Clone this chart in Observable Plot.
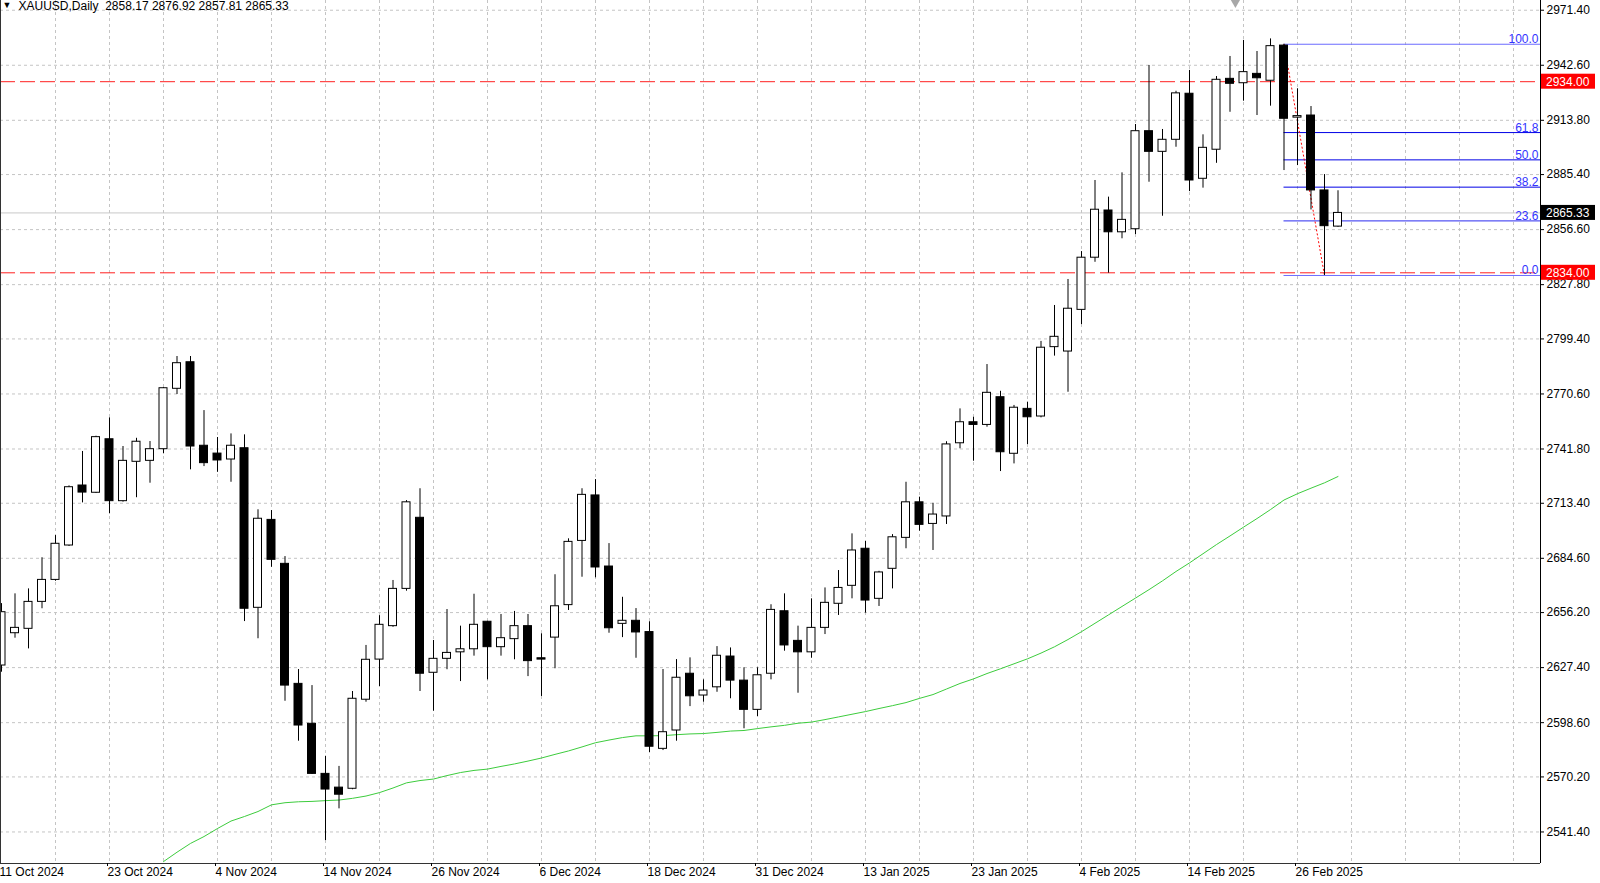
<!DOCTYPE html>
<html><head><meta charset="utf-8">
<script src="https://cdn.jsdelivr.net/npm/d3@7"></script>
<script src="https://cdn.jsdelivr.net/npm/@observablehq/plot@0.6"></script>
<style>html,body{margin:0;padding:0;background:#fff;overflow:hidden} svg{display:block}</style>
</head><body><div id="chart"></div>
<script>
// ---- data ----
const opens = [2628.5,2645.4,2647.7,2661.8,2673.3,2691.3,2722.7,2718.9,2746.9,2714.5,
2735.1,2735.6,2741.7,2773.3,2787.2,2743.5,2739.4,2736.3,2742.2,2658.7,
2704.7,2681.7,2618.9,2598.0,2571.8,2564.6,2564.0,2610.6,2631.6,2649.1,
2668.6,2705.8,2624.7,2632.0,2635.4,2637.0,2651.4,2638.1,2642.3,2649.1,
2632.3,2643.1,2660.1,2693.7,2717.5,2680.3,2650.3,2651.9,2646.0,2584.9,
2594.5,2624.2,2612.8,2617.1,2633.2,2620.6,2605.3,2624.2,2656.9,2641.4,
2635.4,2648.2,2660.8,2670.2,2689.6,2663.4,2679.1,2695.3,2713.9,2702.6,
2706.5,2744.8,2755.8,2754.4,2768.9,2739.3,2762.8,2758.8,2795.1,2792.8,
2814.6,2841.9,2866.6,2855.2,2856.8,2908.1,2897.3,2903.6,2927.7,2883.2,
2898.4,2935.5,2933.2,2938.1,2934.5,2952.9,2915.2,2916.3,2877.1,2858.17];
const highs = [2660.9,2666.0,2668.6,2684.9,2696.5,2722.5,2740.5,2748.5,2758.1,2743.1,
2747.4,2745.7,2774.0,2790.2,2790.2,2761.9,2747.8,2749.7,2749.2,2710.0,
2709.6,2685.5,2626.4,2618.0,2581.0,2575.7,2614.9,2639.0,2654.6,2673.0,
2714.8,2721.0,2641.6,2657.8,2649.1,2665.8,2651.6,2655.2,2656.8,2655.2,
2645.1,2676.0,2694.8,2721.0,2725.8,2692.3,2664.2,2658.3,2651.4,2626.4,
2631.6,2632.5,2621.0,2638.4,2637.7,2627.3,2627.3,2660.3,2666.0,2649.1,
2663.4,2669.1,2678.2,2697.4,2693.4,2677.8,2697.0,2724.4,2716.6,2713.4,
2745.6,2762.8,2758.4,2786.0,2772.0,2764.6,2766.3,2798.1,2816.9,2830.5,
2845.1,2882.3,2873.6,2886.3,2911.6,2942.5,2909.0,2929.0,2939.9,2906.2,
2936.7,2947.2,2955.6,2949.8,2956.4,2953.6,2930.3,2921.0,2885.4,2876.92];
const lows = [2625.0,2642.8,2637.2,2658.2,2672.6,2690.8,2713.6,2718.5,2707.9,2714.0,
2716.3,2723.9,2739.3,2770.3,2730.9,2732.6,2729.6,2724.4,2651.5,2642.5,
2679.9,2609.8,2588.9,2571.5,2536.9,2553.5,2563.5,2609.3,2617.5,2648.5,
2667.4,2614.9,2604.6,2626.3,2620.1,2633.4,2621.0,2633.4,2631.5,2622.7,
2612.3,2626.8,2657.3,2674.7,2674.4,2645.4,2643.1,2632.3,2583.0,2584.0,
2588.9,2607.0,2609.3,2614.5,2611.1,2595.4,2601.8,2621.0,2636.0,2614.0,
2632.3,2644.7,2654.7,2663.4,2655.9,2659.4,2668.6,2689.6,2698.8,2688.7,
2702.3,2741.9,2735.4,2753.2,2730.0,2734.0,2744.1,2758.1,2790.4,2771.5,
2806.9,2839.5,2833.8,2851.8,2854.0,2881.4,2863.6,2899.7,2876.5,2878.3,
2891.3,2918.0,2923.8,2916.3,2921.2,2887.5,2890.1,2866.9,2832.6,2857.81];
const closes = [2656.4,2648.2,2661.8,2673.3,2692.2,2721.8,2719.0,2748.0,2714.5,2735.6,
2745.6,2741.7,2773.6,2786.7,2743.1,2734.4,2735.8,2743.5,2658.2,2705.3,
2683.8,2618.0,2597.1,2571.8,2563.6,2560.9,2611.1,2631.5,2649.8,2668.6,
2713.9,2624.2,2632.0,2635.1,2637.0,2649.8,2638.1,2642.8,2649.1,2630.8,
2631.6,2659.5,2693.2,2717.8,2679.8,2648.0,2651.9,2645.8,2586.0,2593.6,
2622.1,2612.4,2615.4,2633.6,2620.6,2605.3,2623.4,2657.6,2639.0,2635.4,
2648.2,2661.3,2669.1,2688.7,2662.5,2677.2,2695.6,2713.9,2702.1,2707.5,
2744.2,2755.8,2754.4,2771.2,2740.1,2763.4,2758.4,2794.8,2800.5,2815.2,
2841.9,2867.0,2855.2,2861.7,2908.1,2897.3,2903.6,2927.9,2882.3,2899.4,
2935.0,2932.9,2939.0,2935.8,2952.6,2914.6,2916.0,2877.1,2858.4,2865.33];

const maStart = 12;
const maValues = [2525.9,2530.8,2535.4,2539.0,2543.2,2547.1,2549.5,2552.1,2555.6,2556.7,
2557.2,2557.4,2557.8,2558.1,2559.0,2560.2,2562.0,2564.4,2567.1,2568.3,
2569.1,2570.9,2572.5,2573.6,2574.3,2575.7,2577.0,2578.5,2580.1,2582.0,
2583.8,2585.9,2588.1,2589.5,2590.8,2591.7,2591.7,2591.8,2592.3,2592.7,
2592.9,2593.5,2594.2,2594.5,2595.5,2596.4,2597.2,2598.3,2598.9,2600.2,
2601.6,2603.0,2604.4,2606.0,2607.5,2609.1,2611.3,2613.3,2616.2,2619.1,
2621.5,2624.3,2626.8,2629.4,2632.0,2635.0,2638.3,2642.1,2646.2,2650.6,
2655.0,2659.4,2663.8,2668.2,2672.8,2677.7,2682.2,2687.0,2691.8,2696.3,
2700.9,2705.4,2710.1,2715.1,2718.4,2721.3,2724.1,2727.4];

const dateTickIdx = [0,8,16,24,32,40,48,56,64,72,80,88,96];
const dateTickLabels = ["11 Oct 2024","23 Oct 2024","4 Nov 2024","14 Nov 2024","26 Nov 2024",
"6 Dec 2024","18 Dec 2024","31 Dec 2024","13 Jan 2025","23 Jan 2025","4 Feb 2025",
"14 Feb 2025","26 Feb 2025"];
const priceTicks = [2971.40,2942.60,2913.80,2885.40,2856.60,2827.80,2799.40,2770.60,
2741.80,2713.40,2684.60,2656.20,2627.40,2598.60,2570.20,2541.40];

const fibLevels = [100.0, 61.8, 50.0, 38.2, 23.6, 0.0];
const fibHigh = 2953.6, fibLow = 2832.6, fibStartBar = 95, fibEndBar = 98;
const levelLines = [2934.00, 2834.00];
const lastPrice = 2865.33;
const headerText = "XAUUSD,Daily\u00a0 2858.17 2876.92 2857.81 2865.33";

// ---- build ----
const rows = opens.map((o, i) => ({i, o, h: highs[i], l: lows[i], c: closes[i]}));
const maRows = maValues.map((v, k) => ({i: maStart + k, v}));
const fibPrice = l => fibLow + l / 100 * (fibHigh - fibLow);

const W = 1600, H = 883, mR = 60, mB = 20;
const step = 13.5;
const xMin = -1 / step, xMax = (W - mR - 1) / step;
const yMin = 2524.9, yMax = 2976.49;
const half = 4 / step;
const gridIdx = d3.range(4, xMax, 4);
const font = "'Liberation Sans', Arial, sans-serif";

const chart = Plot.plot({
  width: W, height: H,
  marginLeft: 0, marginRight: mR, marginTop: 0, marginBottom: mB,
  style: {fontFamily: font, fontSize: "12px", background: "#fff", color: "#000"},
  x: {type: "linear", domain: [xMin, xMax], axis: null, label: null},
  y: {type: "linear", domain: [yMin, yMax], axis: null, label: null},
  marks: [
    Plot.ruleY(priceTicks, {stroke: "#c4c4c4", strokeDasharray: "3,3"}),
    Plot.ruleX(gridIdx, {stroke: "#c4c4c4", strokeDasharray: "3,3"}),
    Plot.line(maRows, {x: "i", y: "v", stroke: "#3dcc3d", strokeWidth: 1, clip: true}),
    Plot.ruleY([lastPrice], {stroke: "#c8c8c8"}),
    Plot.ruleY(levelLines, {stroke: "#ff2020", strokeDasharray: "15,5"}),
    Plot.ruleY(fibLevels, {y: fibPrice, x1: fibStartBar, x2: xMax,
      stroke: l => (l === 100 || l === 0) ? "#6b6bff" : (l === 23.6 ? "#2b2bf0" : "#0000e6")}),
    Plot.text(fibLevels, {y: fibPrice, text: l => l.toFixed(1), frameAnchor: "right",
      textAnchor: "end", lineAnchor: "bottom", dx: -2, dy: -1, fill: "#3333ff", fontSize: 12}),
    Plot.link([0], {x1: fibStartBar, y1: fibHigh, x2: fibEndBar, y2: fibLow,
      stroke: "#ff0000", strokeDasharray: "2,2"}),
    Plot.ruleX(rows, {x: "i", y1: "l", y2: "h", stroke: "#000", strokeWidth: 1}),
    Plot.rect(rows, {x1: d => d.i - half, x2: d => d.i + half, y1: "o", y2: "c",
      fill: d => d.c >= d.o ? "#fff" : "#000", stroke: "#000", strokeWidth: 1, inset: 0}),
    Plot.ruleX([xMin], {stroke: "#333"}),
    Plot.ruleX([xMax], {stroke: "#000"}),
    Plot.ruleY([yMin], {stroke: "#333"}),
    Plot.axisY(priceTicks, {anchor: "right", label: null, tickFormat: d => d.toFixed(2), tickSize: 3,
      tickPadding: 3, fontSize: 12, fill: "#000", stroke: "#000"}),
    Plot.axisX(dateTickIdx, {anchor: "bottom", label: null,
      tickFormat: d => dateTickLabels[dateTickIdx.indexOf(d)],
      tickSize: 3, tickPadding: 1, textAnchor: "start", dx: -2, fontSize: 12, fill: "#000", stroke: "#000"}),
    Plot.text([headerText], {frameAnchor: "top-left", dx: 18, dy: 1, lineAnchor: "top",
      textAnchor: "start", fontSize: 12, fill: "#000"}),
    Plot.text(["\u25BC"], {frameAnchor: "top-left", dx: 2, dy: 1, lineAnchor: "top",
      textAnchor: "start", fontSize: 9, fill: "#000"}),
    Plot.dot([0], {x: 91.4, frameAnchor: "top", dy: 2, symbol: "triangle", rotate: 180,
      r: 3.5, fill: "#a8a8a8", stroke: null})
  ]
});

document.getElementById("chart").appendChild(chart);

// price label boxes on the right axis, placed with Plot's y scale
const ys = chart.scale("y");
const boxes = [
  {v: levelLines[0], fill: "#ff0000"},
  {v: levelLines[1], fill: "#ff0000"},
  {v: lastPrice, fill: "#000000"}
];
const svg = d3.select(chart);
const g = svg.append("g").attr("text-anchor", "start");
boxes.forEach(b => {
  const yy = ys.apply(b.v);
  g.append("rect").attr("x", W - mR + 1).attr("y", yy - 7.5).attr("width", 54).attr("height", 15)
    .attr("fill", b.fill);
  g.append("text").attr("x", W - mR + 6).attr("y", yy + 0.5).attr("dominant-baseline", "central")
    .attr("text-anchor", "start")
    .attr("fill", "#fff").attr("font-family", font).attr("font-size", 12).text(b.v.toFixed(2));
});
</script>
</body></html>
